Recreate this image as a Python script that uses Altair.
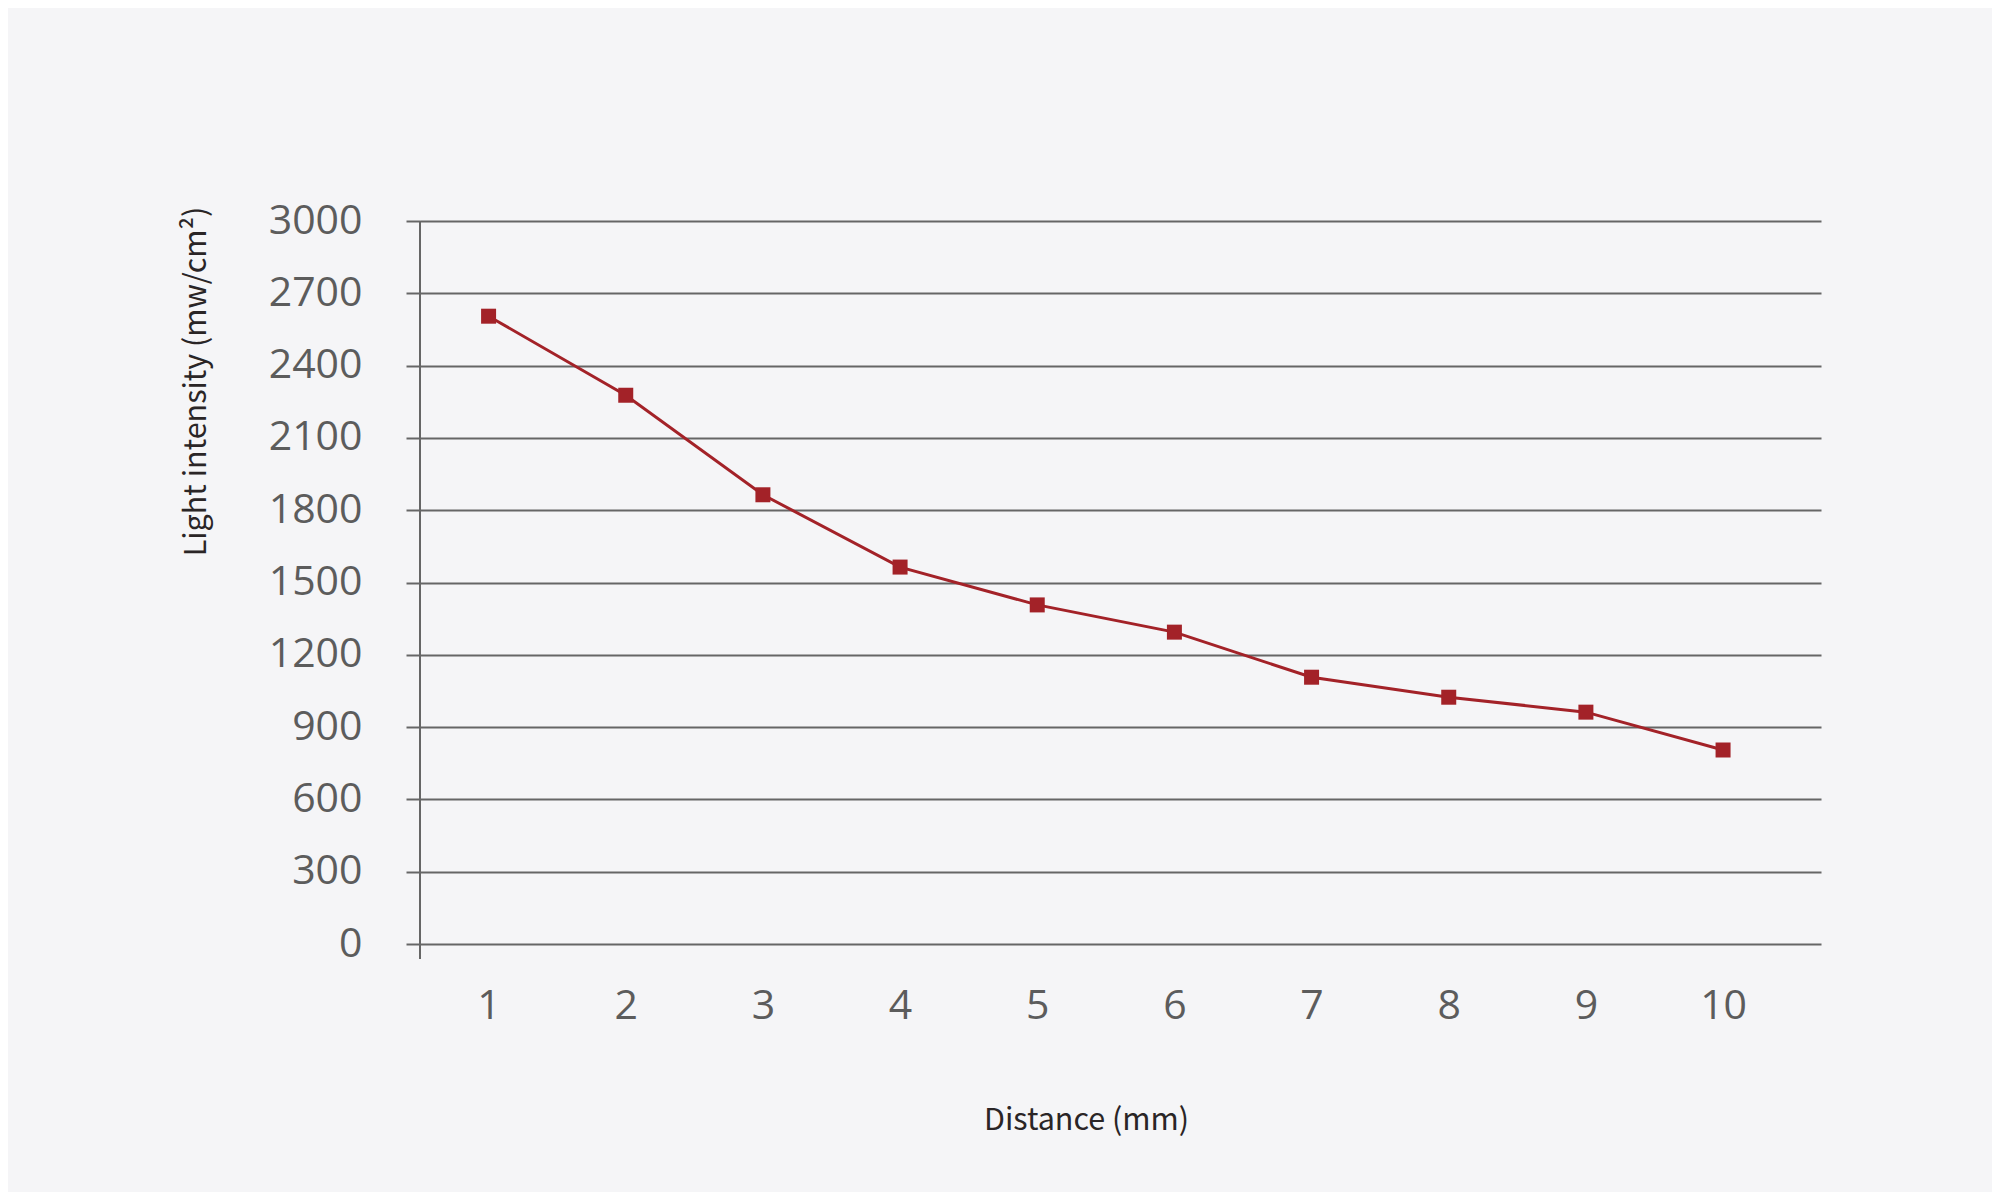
import altair as alt
import pandas as pd

distance = [1, 2, 3, 4, 5, 6, 7, 8, 9, 10]
intensity = [2605, 2277, 1864, 1564, 1407, 1294, 1107, 1024, 962, 805]
y_ticks = [0, 300, 600, 900, 1200, 1500, 1800, 2100, 2400, 2700, 3000]

df = pd.DataFrame({"Distance": distance, "Intensity": intensity})

W, H = 1401, 723
FONT = "Noto Sans CJK SC"
LFONT = "Open Sans"
GRID = "#666666"
RED = "#a32228"

x = alt.X("Distance:Q",
          scale=alt.Scale(domain=[0.5, 10.714], nice=False, zero=False),
          axis=alt.Axis(values=distance, format="d", grid=False, domain=False,
                        ticks=False, tickSize=0, labelPadding=62,
                        labelBaseline="middle", labelFontSize=41,
                        labelColor="#5c5c5c", labelFont=LFONT,
                        title="Distance (mm)", titleFont=FONT, titleFontSize=30.5,
                        titleFontWeight="normal", titleColor="#2a2526",
                        titleX=666, titleY=185, titleAlign="center",
                        titleBaseline="alphabetic"))
y = alt.Y("Intensity:Q",
          scale=alt.Scale(domain=[0, 3000], nice=False),
          axis=alt.Axis(values=y_ticks, format="d", grid=True, gridColor=GRID, gridWidth=2,
                        gridOpacity=1, domain=False, ticks=True, tickSize=14,
                        tickColor=GRID, tickWidth=2, labelPadding=44,
                        labelFontSize=41, labelColor="#5c5c5c", labelFont=LFONT,
                        title="Light intensity (mw/cm²)", titleFont=FONT,
                        titleFontSize=30.5, titleFontWeight="normal",
                        titleColor="#2a2526", titleAngle=270, titleX=-215,
                        titleY=160, titleAlign="center",
                        titleBaseline="alphabetic"))

base = alt.Chart(df)
line = base.mark_line(color=RED, strokeWidth=3).encode(x=x, y=y)
pts = base.mark_square(color=RED, size=225, opacity=1).encode(x="Distance:Q", y="Intensity:Q")
vaxis = base.mark_rule(color=GRID, strokeWidth=2).encode(
    x=alt.value(0), y=alt.value(0), y2=alt.value(H + 15))

chart = alt.layer(line, vaxis, pts).properties(
    width=W, height=H,
    autosize=alt.AutoSizeParams(type="none"),
    padding={"left": 412, "top": 213, "right": 171, "bottom": 248},
    background="#f5f5f7",
).configure_view(stroke=None)

chart.save("out.html", embed_options={"renderer": "svg", "actions": False})
